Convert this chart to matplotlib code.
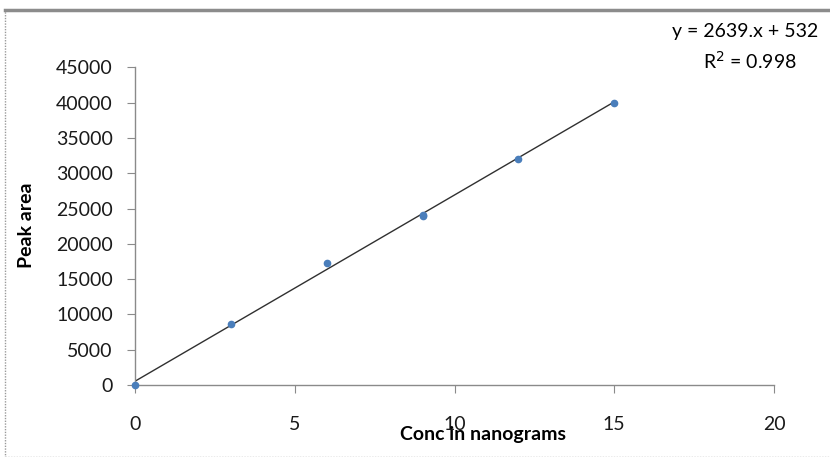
import matplotlib
matplotlib.use("Agg")
import matplotlib.pyplot as plt
from matplotlib.patches import Rectangle
import numpy as np

conc = [0, 3, 6, 9, 9, 12, 15]
peak_area = [0, 8600, 17250, 23900, 24100, 32000, 40000]
slope = 2639
intercept = 532
r2 = 0.998
x_ticks = [0, 5, 10, 15, 20]
y_ticks = [0, 5000, 10000, 15000, 20000, 25000, 30000, 35000, 40000, 45000]

plt.rcParams['font.family'] = ['Lato', 'DejaVu Sans']

W, H = 830, 457
fig = plt.figure(figsize=(W / 100, H / 100), dpi=100)
ax = fig.add_axes([135 / W, 1 - 385 / H, (774 - 135) / W, (385 - 67.4) / H])

# frame around chart
fig.patches.append(Rectangle((5 / W, 0), 1.2, 1 - 10 / H, transform=fig.transFigure,
                             fill=False, edgecolor='#9a9a9a', linewidth=1.0,
                             linestyle=(0, (1, 1))))
fig.add_artist(plt.Line2D([5 / W, 1], [1 - 10 / H, 1 - 10 / H], transform=fig.transFigure,
                          color='#8c8c8c', linewidth=2.5))

xs = np.array([min(conc), max(conc)])
ax.plot(xs, slope * xs + intercept, color='#303030', linewidth=1.0, zorder=2)
ax.plot(conc, peak_area, 'o', color='#4a7ebb', markersize=4.5, zorder=3, clip_on=False)

ax.set_xlim(0, 20)
ax.set_ylim(0, 45000)
ax.set_xticks(x_ticks)
ax.set_yticks(y_ticks)
ax.set_xticklabels([str(t) for t in x_ticks], fontsize=14)
ax.set_yticklabels([str(t) for t in y_ticks], fontsize=14)
for s in ['top', 'right']:
    ax.spines[s].set_visible(False)
for s in ['left', 'bottom']:
    ax.spines[s].set_color('#8a8a8a')
    ax.spines[s].set_linewidth(1.0)
ax.tick_params(axis='both', direction='out', length=6, color='#8a8a8a', labelcolor='#1a1a1a')
ax.tick_params(axis='x', pad=16)
ax.tick_params(axis='y', pad=10)

ax.set_xlabel('Conc in nanograms', fontsize=14, fontweight='bold', va='center')
ax.xaxis.set_label_coords(0.5 * (388 + 577) / 1 / 639 - 135 / 639, (385 - 434) / 317.6)
ax.set_ylabel('Peak area', fontsize=14, fontweight='bold', va='center')
ax.yaxis.set_label_coords((26 - 135) / 639, (385 - 225) / 317.6)

fig.text(745 / W, 1 - 32 / H, f'y = {slope}.x + {intercept}', fontsize=14, ha='center', va='center')
fig.text(750 / W, 1 - 61 / H, f'R$^2$ = {r2}', fontsize=14, ha='center', va='center')

fig.savefig('out.png', dpi=100, facecolor='white')
